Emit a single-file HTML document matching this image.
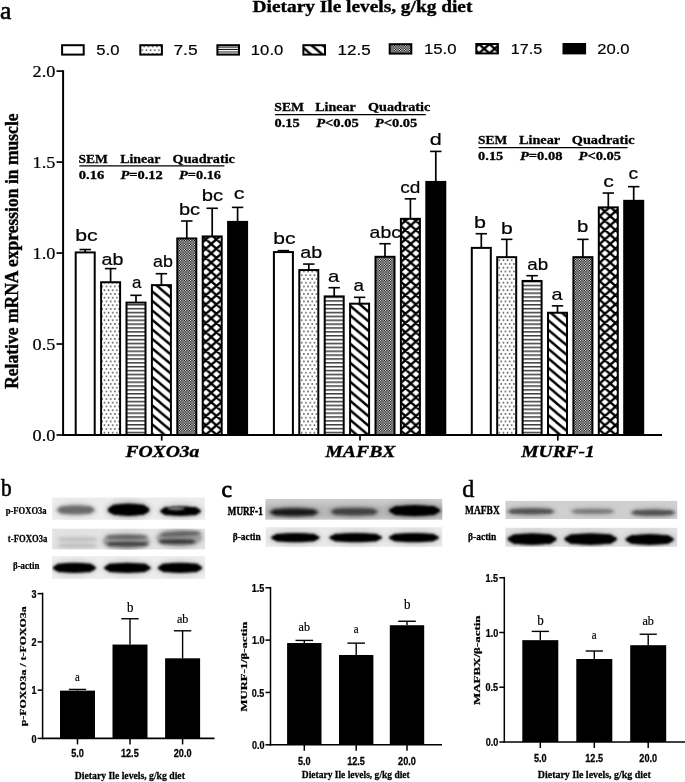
<!DOCTYPE html>
<html lang="en"><head><meta charset="utf-8"><title>Figure</title>
<style>
html,body{margin:0;padding:0;background:#fff;}
body{width:685px;height:782px;overflow:hidden;}
svg{display:block;}
.se{font-family:"Liberation Serif", "DejaVu Serif", serif;}
.sa{font-family:"Liberation Sans", "DejaVu Sans", sans-serif;}
</style></head><body>
<svg width="685" height="782" viewBox="0 0 685 782">
<defs>
<pattern id="p2" width="4.2" height="7.5" patternUnits="userSpaceOnUse" patternTransform="translate(0.6,0.5)">
<rect width="4.2" height="7.5" fill="#fff"/>
<rect x="0.2" y="0.3" width="1.35" height="1.3" fill="#111"/>
<rect x="2.3" y="4.05" width="1.35" height="1.3" fill="#111"/>
</pattern>
<pattern id="p3" width="6" height="3.87" patternUnits="userSpaceOnUse" patternTransform="translate(0,1.2)">
<rect width="6" height="3.87" fill="#fff"/>
<rect x="0" y="1.2" width="6" height="1.15" fill="#000"/>
</pattern>
<pattern id="p3l" width="6" height="2.45" patternUnits="userSpaceOnUse" patternTransform="translate(0,45.9)">
<rect width="6" height="2.45" fill="#fff"/>
<rect x="0" y="0.7" width="6" height="0.95" fill="#000"/>
</pattern>
<pattern id="p4" width="11.3" height="9.5" patternUnits="userSpaceOnUse" patternTransform="translate(2.5,4)">
<rect width="11.3" height="9.5" fill="#fff"/>
<path d="M-11.3,-9.5 L22.6,19 M-11.3,-19 L22.6,9.5 M-11.3,0 L22.6,28.5" stroke="#000" stroke-width="2.4" fill="none"/>
</pattern>
<pattern id="p5" width="2.5" height="2.5" patternUnits="userSpaceOnUse">
<rect width="2.5" height="2.5" fill="#000"/>
<rect x="0.05" y="0.05" width="1.2" height="1.2" fill="#fff"/>
<rect x="1.3" y="1.3" width="1.2" height="1.2" fill="#fff"/>
</pattern>
<pattern id="p6" width="10.5" height="9.3" patternUnits="userSpaceOnUse" patternTransform="translate(1.2,2.2)">
<rect width="10.5" height="9.3" fill="#fff"/>
<path d="M-10.5,-9.3 L21,18.6 M0,-9.3 L21,9.3 M-10.5,0 L10.5,18.6 M21,-9.3 L-10.5,18.6 M10.5,-9.3 L-10.5,9.3 M21,0 L0,18.6" stroke="#000" stroke-width="2.3" fill="none"/>
</pattern>
<filter id="b1" x="-20%" y="-60%" width="140%" height="220%"><feGaussianBlur stdDeviation="1.0"/></filter>
<filter id="b2" x="-20%" y="-60%" width="140%" height="220%"><feGaussianBlur stdDeviation="1.5"/></filter>
<filter id="b3" x="-5%" y="-20%" width="110%" height="140%"><feGaussianBlur stdDeviation="0.6"/></filter>
<filter id="b4" x="-30%" y="-80%" width="160%" height="260%"><feGaussianBlur stdDeviation="2.6"/></filter>
</defs>
<rect width="685" height="782" fill="#fff"/>

<text class="se" transform="translate(-0.09,18.80) scale(0.9834,1.0000)" text-anchor="start" style="font-size:26px;stroke:#000;stroke-width:0.6px;">a</text>
<text class="se" transform="translate(252.61,11.90) scale(1.1386,1.0000)" text-anchor="start" style="font-size:17px;font-weight:bold;stroke:#000;stroke-width:0.35px;">Dietary Ile levels, g/kg diet</text>
<rect x="62.10" y="45.20" width="21.60" height="9.40" fill="#fff" stroke="#000" stroke-width="2" />
<text class="sa" transform="translate(96.33,55.30) scale(1.0745,1.0000)" text-anchor="start" style="font-size:15.5px;stroke:#000;stroke-width:0.2px;">5.0</text>
<rect x="140.30" y="45.20" width="21.60" height="9.40" fill="url(#p2)" stroke="#000" stroke-width="2" />
<text class="sa" transform="translate(173.43,55.30) scale(1.1216,1.0000)" text-anchor="start" style="font-size:15.5px;stroke:#000;stroke-width:0.2px;">7.5</text>
<rect x="217.40" y="45.20" width="21.60" height="9.40" fill="url(#p3l)" stroke="#000" stroke-width="2" />
<text class="sa" transform="translate(250.85,55.30) scale(1.0759,1.0000)" text-anchor="start" style="font-size:15.5px;stroke:#000;stroke-width:0.2px;">10.0</text>
<rect x="303.40" y="45.20" width="21.60" height="9.40" fill="url(#p4)" stroke="#000" stroke-width="2" />
<text class="sa" transform="translate(337.53,55.30) scale(1.0964,1.0000)" text-anchor="start" style="font-size:15.5px;stroke:#000;stroke-width:0.2px;">12.5</text>
<rect x="389.70" y="44.20" width="21.60" height="9.40" fill="url(#p5)" stroke="#000" stroke-width="2" />
<text class="sa" transform="translate(423.95,54.00) scale(1.0794,1.0000)" text-anchor="start" style="font-size:15.5px;stroke:#000;stroke-width:0.2px;">15.0</text>
<rect x="476.30" y="44.00" width="21.60" height="9.40" fill="url(#p6)" stroke="#000" stroke-width="2" />
<text class="sa" transform="translate(510.79,53.70) scale(1.0400,1.0000)" text-anchor="start" style="font-size:15.5px;stroke:#000;stroke-width:0.2px;">17.5</text>
<rect x="563.50" y="44.00" width="21.60" height="9.40" fill="#000" stroke="#000" stroke-width="2" />
<text class="sa" transform="translate(597.17,53.70) scale(1.0753,1.0000)" text-anchor="start" style="font-size:15.5px;stroke:#000;stroke-width:0.2px;">20.0</text>
<line x1="63.10" y1="70.30" x2="63.10" y2="436.00" stroke="#000" stroke-width="2" stroke-linecap="butt"/>
<line x1="62.10" y1="435.00" x2="662.00" y2="435.00" stroke="#000" stroke-width="2" stroke-linecap="butt"/>
<line x1="56.50" y1="435.00" x2="63.10" y2="435.00" stroke="#000" stroke-width="1.7" stroke-linecap="butt"/>
<text class="se" transform="translate(32.51,440.50) scale(1.1000,1.0000)" text-anchor="start" style="font-size:16.6px;stroke:#000;stroke-width:0.2px;">0.0</text>
<line x1="56.50" y1="344.02" x2="63.10" y2="344.02" stroke="#000" stroke-width="1.7" stroke-linecap="butt"/>
<text class="se" transform="translate(32.51,349.52) scale(1.1000,1.0000)" text-anchor="start" style="font-size:16.6px;stroke:#000;stroke-width:0.2px;">0.5</text>
<line x1="56.50" y1="253.05" x2="63.10" y2="253.05" stroke="#000" stroke-width="1.7" stroke-linecap="butt"/>
<text class="se" transform="translate(32.51,258.55) scale(1.1000,1.0000)" text-anchor="start" style="font-size:16.6px;stroke:#000;stroke-width:0.2px;">1.0</text>
<line x1="56.50" y1="162.08" x2="63.10" y2="162.08" stroke="#000" stroke-width="1.7" stroke-linecap="butt"/>
<text class="se" transform="translate(32.51,167.58) scale(1.1000,1.0000)" text-anchor="start" style="font-size:16.6px;stroke:#000;stroke-width:0.2px;">1.5</text>
<line x1="56.50" y1="71.10" x2="63.10" y2="71.10" stroke="#000" stroke-width="1.7" stroke-linecap="butt"/>
<text class="se" transform="translate(32.51,76.60) scale(1.1000,1.0000)" text-anchor="start" style="font-size:16.6px;stroke:#000;stroke-width:0.2px;">2.0</text>
<text class="se" transform="translate(17.90,388.86) rotate(-90) scale(1.0568,1.1300)" text-anchor="start" style="font-size:16.6px;font-weight:bold;stroke:#000;stroke-width:0.35px;">Relative mRNA expression in muscle</text>
<line x1="161.70" y1="435.00" x2="161.70" y2="440.60" stroke="#000" stroke-width="1.7" stroke-linecap="butt"/>
<text class="se" transform="translate(125.40,456.70) scale(1.1330,1.0000)" text-anchor="start" style="font-size:17.3px;font-weight:bold;font-style:italic;stroke:#000;stroke-width:0.35px;">FOXO3a</text>
<line x1="85.20" y1="252.44" x2="85.20" y2="249.53" stroke="#000" stroke-width="1.7" stroke-linecap="butt"/>
<line x1="79.50" y1="249.53" x2="90.90" y2="249.53" stroke="#000" stroke-width="1.6" stroke-linecap="butt"/>
<rect x="75.70" y="252.44" width="19.00" height="182.56" fill="#fff" stroke="#000" stroke-width="2" />
<text class="sa" transform="translate(75.22,241.30) scale(1.2645,1.0000)" text-anchor="start" style="font-size:16.8px;stroke:#000;stroke-width:0.2px;">bc</text>
<line x1="110.60" y1="282.24" x2="110.60" y2="268.61" stroke="#000" stroke-width="1.7" stroke-linecap="butt"/>
<line x1="104.90" y1="268.61" x2="116.30" y2="268.61" stroke="#000" stroke-width="1.6" stroke-linecap="butt"/>
<rect x="101.10" y="282.24" width="19.00" height="152.76" fill="url(#p2)" stroke="#000" stroke-width="2" />
<text class="sa" transform="translate(101.61,264.90) scale(1.1731,1.0000)" text-anchor="start" style="font-size:16.8px;stroke:#000;stroke-width:0.2px;">ab</text>
<line x1="136.00" y1="302.59" x2="136.00" y2="295.32" stroke="#000" stroke-width="1.7" stroke-linecap="butt"/>
<line x1="130.30" y1="295.32" x2="141.70" y2="295.32" stroke="#000" stroke-width="1.6" stroke-linecap="butt"/>
<rect x="126.50" y="302.59" width="19.00" height="132.41" fill="url(#p3)" stroke="#000" stroke-width="2" />
<text class="sa" transform="translate(132.02,288.20) scale(1.0055,1.0000)" text-anchor="start" style="font-size:16.8px;stroke:#000;stroke-width:0.2px;">a</text>
<line x1="161.40" y1="285.14" x2="161.40" y2="273.70" stroke="#000" stroke-width="1.7" stroke-linecap="butt"/>
<line x1="155.70" y1="273.70" x2="167.10" y2="273.70" stroke="#000" stroke-width="1.6" stroke-linecap="butt"/>
<rect x="151.90" y="285.14" width="19.00" height="149.86" fill="url(#p4)" stroke="#000" stroke-width="2" />
<text class="sa" transform="translate(152.99,267.20) scale(1.0633,1.0000)" text-anchor="start" style="font-size:16.8px;stroke:#000;stroke-width:0.2px;">ab</text>
<line x1="186.80" y1="238.45" x2="186.80" y2="221.00" stroke="#000" stroke-width="1.7" stroke-linecap="butt"/>
<line x1="181.10" y1="221.00" x2="192.50" y2="221.00" stroke="#000" stroke-width="1.6" stroke-linecap="butt"/>
<rect x="177.30" y="238.45" width="19.00" height="196.55" fill="url(#p5)" stroke="#000" stroke-width="2" />
<text class="sa" transform="translate(179.00,215.30) scale(1.1905,1.0000)" text-anchor="start" style="font-size:16.8px;stroke:#000;stroke-width:0.2px;">bc</text>
<line x1="212.20" y1="236.45" x2="212.20" y2="208.28" stroke="#000" stroke-width="1.7" stroke-linecap="butt"/>
<line x1="206.50" y1="208.28" x2="217.90" y2="208.28" stroke="#000" stroke-width="1.6" stroke-linecap="butt"/>
<rect x="202.70" y="236.45" width="19.00" height="198.55" fill="url(#p6)" stroke="#000" stroke-width="2" />
<text class="sa" transform="translate(201.79,200.70) scale(1.2028,1.0000)" text-anchor="start" style="font-size:16.8px;stroke:#000;stroke-width:0.2px;">bc</text>
<line x1="237.60" y1="221.91" x2="237.60" y2="207.38" stroke="#000" stroke-width="1.7" stroke-linecap="butt"/>
<line x1="231.90" y1="207.38" x2="243.30" y2="207.38" stroke="#000" stroke-width="1.6" stroke-linecap="butt"/>
<rect x="228.10" y="221.91" width="19.00" height="213.09" fill="#000" stroke="#000" stroke-width="2" />
<text class="sa" transform="translate(233.74,199.20) scale(1.2726,1.0000)" text-anchor="start" style="font-size:16.8px;stroke:#000;stroke-width:0.2px;">c</text>
<line x1="360.00" y1="435.00" x2="360.00" y2="440.60" stroke="#000" stroke-width="1.7" stroke-linecap="butt"/>
<text class="se" transform="translate(325.20,456.70) scale(1.1432,1.0000)" text-anchor="start" style="font-size:17.3px;font-weight:bold;font-style:italic;stroke:#000;stroke-width:0.35px;">MAFBX</text>
<line x1="283.40" y1="252.07" x2="283.40" y2="250.62" stroke="#000" stroke-width="1.7" stroke-linecap="butt"/>
<line x1="277.70" y1="250.62" x2="289.10" y2="250.62" stroke="#000" stroke-width="1.6" stroke-linecap="butt"/>
<rect x="273.90" y="252.07" width="19.00" height="182.93" fill="#fff" stroke="#000" stroke-width="2" />
<text class="sa" transform="translate(273.33,244.30) scale(1.2522,1.0000)" text-anchor="start" style="font-size:16.8px;stroke:#000;stroke-width:0.2px;">bc</text>
<line x1="308.80" y1="270.06" x2="308.80" y2="264.07" stroke="#000" stroke-width="1.7" stroke-linecap="butt"/>
<line x1="303.10" y1="264.07" x2="314.50" y2="264.07" stroke="#000" stroke-width="1.6" stroke-linecap="butt"/>
<rect x="299.30" y="270.06" width="19.00" height="164.94" fill="url(#p2)" stroke="#000" stroke-width="2" />
<text class="sa" transform="translate(300.21,257.60) scale(1.1731,1.0000)" text-anchor="start" style="font-size:16.8px;stroke:#000;stroke-width:0.2px;">ab</text>
<line x1="334.20" y1="296.41" x2="334.20" y2="287.69" stroke="#000" stroke-width="1.7" stroke-linecap="butt"/>
<line x1="328.50" y1="287.69" x2="339.90" y2="287.69" stroke="#000" stroke-width="1.6" stroke-linecap="butt"/>
<rect x="324.70" y="296.41" width="19.00" height="138.59" fill="url(#p3)" stroke="#000" stroke-width="2" />
<text class="sa" transform="translate(327.98,282.00) scale(1.2136,1.0000)" text-anchor="start" style="font-size:16.8px;stroke:#000;stroke-width:0.2px;">a</text>
<line x1="359.60" y1="303.68" x2="359.60" y2="297.32" stroke="#000" stroke-width="1.7" stroke-linecap="butt"/>
<line x1="353.90" y1="297.32" x2="365.30" y2="297.32" stroke="#000" stroke-width="1.6" stroke-linecap="butt"/>
<rect x="350.10" y="303.68" width="19.00" height="131.32" fill="url(#p4)" stroke="#000" stroke-width="2" />
<text class="sa" transform="translate(353.55,291.40) scale(1.1211,1.0000)" text-anchor="start" style="font-size:16.8px;stroke:#000;stroke-width:0.2px;">a</text>
<line x1="385.00" y1="256.80" x2="385.00" y2="243.72" stroke="#000" stroke-width="1.7" stroke-linecap="butt"/>
<line x1="379.30" y1="243.72" x2="390.70" y2="243.72" stroke="#000" stroke-width="1.6" stroke-linecap="butt"/>
<rect x="375.50" y="256.80" width="19.00" height="178.20" fill="url(#p5)" stroke="#000" stroke-width="2" />
<text class="sa" transform="translate(369.62,237.60) scale(1.1558,1.0000)" text-anchor="start" style="font-size:16.8px;stroke:#000;stroke-width:0.2px;">abc</text>
<line x1="410.40" y1="218.82" x2="410.40" y2="198.84" stroke="#000" stroke-width="1.7" stroke-linecap="butt"/>
<line x1="404.70" y1="198.84" x2="416.10" y2="198.84" stroke="#000" stroke-width="1.6" stroke-linecap="butt"/>
<rect x="400.90" y="218.82" width="19.00" height="216.18" fill="url(#p6)" stroke="#000" stroke-width="2" />
<text class="sa" transform="translate(400.14,193.20) scale(1.1341,1.0000)" text-anchor="start" style="font-size:16.8px;stroke:#000;stroke-width:0.2px;">cd</text>
<line x1="435.80" y1="181.94" x2="435.80" y2="151.41" stroke="#000" stroke-width="1.7" stroke-linecap="butt"/>
<line x1="430.10" y1="151.41" x2="441.50" y2="151.41" stroke="#000" stroke-width="1.6" stroke-linecap="butt"/>
<rect x="426.30" y="181.94" width="19.00" height="253.06" fill="#000" stroke="#000" stroke-width="2" />
<text class="sa" transform="translate(429.74,145.30) scale(1.2831,1.0000)" text-anchor="start" style="font-size:16.8px;stroke:#000;stroke-width:0.2px;">d</text>
<line x1="557.80" y1="435.00" x2="557.80" y2="440.60" stroke="#000" stroke-width="1.7" stroke-linecap="butt"/>
<text class="se" transform="translate(521.29,456.70) scale(1.1248,1.0000)" text-anchor="start" style="font-size:17.3px;font-weight:bold;font-style:italic;stroke:#000;stroke-width:0.35px;">MURF-1</text>
<line x1="481.30" y1="247.89" x2="481.30" y2="233.72" stroke="#000" stroke-width="1.7" stroke-linecap="butt"/>
<line x1="475.60" y1="233.72" x2="487.00" y2="233.72" stroke="#000" stroke-width="1.6" stroke-linecap="butt"/>
<rect x="471.80" y="247.89" width="19.00" height="187.11" fill="#fff" stroke="#000" stroke-width="2" />
<text class="sa" transform="translate(473.90,228.20) scale(1.2831,1.0000)" text-anchor="start" style="font-size:16.8px;stroke:#000;stroke-width:0.2px;">b</text>
<line x1="506.70" y1="257.16" x2="506.70" y2="239.35" stroke="#000" stroke-width="1.7" stroke-linecap="butt"/>
<line x1="501.00" y1="239.35" x2="512.40" y2="239.35" stroke="#000" stroke-width="1.6" stroke-linecap="butt"/>
<rect x="497.20" y="257.16" width="19.00" height="177.84" fill="url(#p2)" stroke="#000" stroke-width="2" />
<text class="sa" transform="translate(501.03,234.00) scale(1.2566,1.0000)" text-anchor="start" style="font-size:16.8px;stroke:#000;stroke-width:0.2px;">b</text>
<line x1="532.10" y1="280.96" x2="532.10" y2="275.69" stroke="#000" stroke-width="1.7" stroke-linecap="butt"/>
<line x1="526.40" y1="275.69" x2="537.80" y2="275.69" stroke="#000" stroke-width="1.6" stroke-linecap="butt"/>
<rect x="522.60" y="280.96" width="19.00" height="154.04" fill="url(#p3)" stroke="#000" stroke-width="2" />
<text class="sa" transform="translate(527.25,269.80) scale(1.1211,1.0000)" text-anchor="start" style="font-size:16.8px;stroke:#000;stroke-width:0.2px;">ab</text>
<line x1="557.50" y1="312.76" x2="557.50" y2="305.86" stroke="#000" stroke-width="1.7" stroke-linecap="butt"/>
<line x1="551.80" y1="305.86" x2="563.20" y2="305.86" stroke="#000" stroke-width="1.6" stroke-linecap="butt"/>
<rect x="548.00" y="312.76" width="19.00" height="122.24" fill="url(#p4)" stroke="#000" stroke-width="2" />
<text class="sa" transform="translate(551.61,299.80) scale(1.1789,1.0000)" text-anchor="start" style="font-size:16.8px;stroke:#000;stroke-width:0.2px;">a</text>
<line x1="582.90" y1="257.16" x2="582.90" y2="239.35" stroke="#000" stroke-width="1.7" stroke-linecap="butt"/>
<line x1="577.20" y1="239.35" x2="588.60" y2="239.35" stroke="#000" stroke-width="1.6" stroke-linecap="butt"/>
<rect x="573.40" y="257.16" width="19.00" height="177.84" fill="url(#p5)" stroke="#000" stroke-width="2" />
<text class="sa" transform="translate(577.07,231.80) scale(1.2169,1.0000)" text-anchor="start" style="font-size:16.8px;stroke:#000;stroke-width:0.2px;">b</text>
<line x1="608.30" y1="207.38" x2="608.30" y2="193.02" stroke="#000" stroke-width="1.7" stroke-linecap="butt"/>
<line x1="602.60" y1="193.02" x2="614.00" y2="193.02" stroke="#000" stroke-width="1.6" stroke-linecap="butt"/>
<rect x="598.80" y="207.38" width="19.00" height="227.62" fill="url(#p6)" stroke="#000" stroke-width="2" />
<text class="sa" transform="translate(603.35,186.60) scale(1.2589,1.0000)" text-anchor="start" style="font-size:16.8px;stroke:#000;stroke-width:0.2px;">c</text>
<line x1="633.70" y1="200.83" x2="633.70" y2="186.66" stroke="#000" stroke-width="1.7" stroke-linecap="butt"/>
<line x1="628.00" y1="186.66" x2="639.40" y2="186.66" stroke="#000" stroke-width="1.6" stroke-linecap="butt"/>
<rect x="624.20" y="200.83" width="19.00" height="234.17" fill="#000" stroke="#000" stroke-width="2" />
<text class="sa" transform="translate(628.44,178.60) scale(1.1357,1.0000)" text-anchor="start" style="font-size:16.8px;stroke:#000;stroke-width:0.2px;">c</text>
<text class="se" transform="translate(78.55,163.40) scale(1.0441,1.0000)" text-anchor="start" style="font-size:13px;font-weight:bold;stroke:#000;stroke-width:0.3px;">SEM</text>
<text class="se" transform="translate(120.19,163.40) scale(1.0696,1.0000)" text-anchor="start" style="font-size:13px;font-weight:bold;stroke:#000;stroke-width:0.3px;">Linear</text>
<text class="se" transform="translate(172.59,163.40) scale(1.0928,1.0000)" text-anchor="start" style="font-size:13px;font-weight:bold;stroke:#000;stroke-width:0.3px;">Quadratic</text>
<line x1="79.30" y1="165.90" x2="224.40" y2="165.90" stroke="#000" stroke-width="1.2" stroke-linecap="butt"/>
<text class="se" transform="translate(78.72,178.50) scale(1.1218,1.0000)" text-anchor="start" style="font-size:13px;font-weight:bold;stroke:#000;stroke-width:0.3px;">0.16</text>
<text class="se" transform="translate(120.40,178.50) scale(1.1126,1.0000)" text-anchor="start" style="font-size:13px;font-weight:bold;stroke:#000;stroke-width:0.3px;"><tspan font-style="italic">P</tspan>=0.12</text>
<text class="se" transform="translate(179.10,178.50) scale(1.1008,1.0000)" text-anchor="start" style="font-size:13px;font-weight:bold;stroke:#000;stroke-width:0.3px;"><tspan font-style="italic">P</tspan>=0.16</text>
<text class="se" transform="translate(274.25,110.80) scale(1.0552,1.0000)" text-anchor="start" style="font-size:13px;font-weight:bold;stroke:#000;stroke-width:0.3px;">SEM</text>
<text class="se" transform="translate(315.19,110.80) scale(1.0831,1.0000)" text-anchor="start" style="font-size:13px;font-weight:bold;stroke:#000;stroke-width:0.3px;">Linear</text>
<text class="se" transform="translate(368.09,110.80) scale(1.0910,1.0000)" text-anchor="start" style="font-size:13px;font-weight:bold;stroke:#000;stroke-width:0.3px;">Quadratic</text>
<line x1="275.00" y1="114.70" x2="425.80" y2="114.70" stroke="#000" stroke-width="1.2" stroke-linecap="butt"/>
<text class="se" transform="translate(274.42,126.50) scale(1.1114,1.0000)" text-anchor="start" style="font-size:13px;font-weight:bold;stroke:#000;stroke-width:0.3px;">0.15</text>
<text class="se" transform="translate(316.20,126.50) scale(1.1186,1.0000)" text-anchor="start" style="font-size:13px;font-weight:bold;stroke:#000;stroke-width:0.3px;"><tspan font-style="italic">P</tspan>&lt;0.05</text>
<text class="se" transform="translate(374.80,126.50) scale(1.1186,1.0000)" text-anchor="start" style="font-size:13px;font-weight:bold;stroke:#000;stroke-width:0.3px;"><tspan font-style="italic">P</tspan>&lt;0.05</text>
<text class="se" transform="translate(477.96,143.80) scale(1.0367,1.0000)" text-anchor="start" style="font-size:13px;font-weight:bold;stroke:#000;stroke-width:0.3px;">SEM</text>
<text class="se" transform="translate(518.89,143.80) scale(1.0993,1.0000)" text-anchor="start" style="font-size:13px;font-weight:bold;stroke:#000;stroke-width:0.3px;">Linear</text>
<text class="se" transform="translate(571.79,143.80) scale(1.0999,1.0000)" text-anchor="start" style="font-size:13px;font-weight:bold;stroke:#000;stroke-width:0.3px;">Quadratic</text>
<line x1="478.70" y1="147.70" x2="627.60" y2="147.70" stroke="#000" stroke-width="1.2" stroke-linecap="butt"/>
<text class="se" transform="translate(478.12,159.50) scale(1.1068,1.0000)" text-anchor="start" style="font-size:13px;font-weight:bold;stroke:#000;stroke-width:0.3px;">0.15</text>
<text class="se" transform="translate(519.90,159.50) scale(1.1186,1.0000)" text-anchor="start" style="font-size:13px;font-weight:bold;stroke:#000;stroke-width:0.3px;"><tspan font-style="italic">P</tspan>=0.08</text>
<text class="se" transform="translate(578.50,159.50) scale(1.1186,1.0000)" text-anchor="start" style="font-size:13px;font-weight:bold;stroke:#000;stroke-width:0.3px;"><tspan font-style="italic">P</tspan>&lt;0.05</text>
<text class="se" transform="translate(1.10,496.40) scale(0.8194,1.0000)" text-anchor="start" style="font-size:26px;stroke:#000;stroke-width:0.6px;">b</text>
<text class="se" transform="translate(5.71,514.20) scale(0.8412,1.0000)" text-anchor="start" style="font-size:10.2px;font-weight:bold;stroke:#000;stroke-width:0.25px;">p-FOXO3a</text>
<text class="se" transform="translate(7.87,542.40) scale(0.8493,1.0000)" text-anchor="start" style="font-size:10.2px;font-weight:bold;stroke:#000;stroke-width:0.25px;">t-FOXO3a</text>
<text class="se" transform="translate(13.01,569.20) scale(0.8688,1.0000)" text-anchor="start" style="font-size:10.2px;font-weight:bold;stroke:#000;stroke-width:0.25px;">β-actin</text>
<rect x="52.20" y="497.50" width="152.80" height="22.20" fill="#ececec" filter="url(#b3)"/>
<clipPath id="cp1"><rect x="51.70" y="497.00" width="153.80" height="23.20"/></clipPath>
<g clip-path="url(#cp1)">
<ellipse cx="75.80" cy="509.90" rx="20.90" ry="7.60" fill="#000" opacity="0.1" filter="url(#b4)"/>
<g filter="url(#b2)" opacity="0.75"><ellipse cx="75.80" cy="509.90" rx="18.90" ry="4.60" fill="#4a4a4a"/><rect x="59.17" y="506.04" width="33.26" height="7.73" rx="3.68" fill="#4a4a4a"/></g>
<ellipse cx="128.60" cy="509.80" rx="23.00" ry="9.20" fill="#000" opacity="0.2" filter="url(#b4)"/>
<g filter="url(#b1)" opacity="1"><ellipse cx="128.60" cy="509.80" rx="21.00" ry="6.20" fill="#000"/><rect x="110.12" y="504.59" width="36.96" height="10.42" rx="4.96" fill="#000"/></g>
<ellipse cx="180.55" cy="511.10" rx="22.45" ry="7.90" fill="#000" opacity="0.15" filter="url(#b4)"/>
<g filter="url(#b1)" opacity="1"><ellipse cx="180.55" cy="511.10" rx="20.45" ry="4.90" fill="#000"/><rect x="162.55" y="506.98" width="35.99" height="8.23" rx="3.92" fill="#000"/></g>
<ellipse cx="176" cy="508.6" rx="9" ry="1.6" fill="#ececec" opacity="0.55" filter="url(#b1)"/>
</g>
<rect x="52.20" y="528.70" width="152.80" height="20.70" fill="#e3e3e3" filter="url(#b3)"/>
<clipPath id="cp2"><rect x="51.70" y="528.20" width="153.80" height="21.70"/></clipPath>
<g clip-path="url(#cp2)">
<ellipse cx="77.50" cy="539.25" rx="22.50" ry="4.75" fill="#000" opacity="0.03" filter="url(#b4)"/>
<g filter="url(#b2)" opacity="0.35"><ellipse cx="77.50" cy="539.25" rx="20.50" ry="1.75" fill="#888"/><rect x="59.46" y="537.78" width="36.08" height="2.94" rx="1.40" fill="#888"/></g>
<ellipse cx="77.50" cy="545.75" rx="22.50" ry="4.75" fill="#000" opacity="0.03" filter="url(#b4)"/>
<g filter="url(#b2)" opacity="0.35"><ellipse cx="77.50" cy="545.75" rx="20.50" ry="1.75" fill="#888"/><rect x="59.46" y="544.28" width="36.08" height="2.94" rx="1.40" fill="#888"/></g>
<ellipse cx="126.25" cy="541.40" rx="25.35" ry="10.40" fill="#000" opacity="0.1" filter="url(#b4)"/>
<g filter="url(#b2)" opacity="0.55"><ellipse cx="126.25" cy="541.40" rx="23.35" ry="7.40" fill="#777"/><rect x="105.70" y="535.18" width="41.10" height="12.43" rx="5.92" fill="#777"/></g>
<g filter="url(#b2)" opacity="0.6"><ellipse cx="126.50" cy="537.00" rx="22.00" ry="1.80" fill="#333"/><rect x="107.14" y="535.49" width="38.72" height="3.02" rx="1.44" fill="#333"/></g>
<g filter="url(#b2)" opacity="0.75"><ellipse cx="127.50" cy="544.00" rx="21.50" ry="2.50" fill="#222"/><rect x="108.58" y="541.90" width="37.84" height="4.20" rx="2.00" fill="#222"/></g>
<ellipse cx="179.40" cy="538.00" rx="24.80" ry="11.00" fill="#000" opacity="0.1" filter="url(#b4)"/>
<g filter="url(#b2)" opacity="0.55"><ellipse cx="179.40" cy="538.00" rx="22.80" ry="8.00" fill="#777"/><rect x="159.34" y="531.28" width="40.13" height="13.44" rx="6.40" fill="#777"/></g>
<g filter="url(#b2)" opacity="0.6" transform="rotate(-3 181.0 534.0)"><ellipse cx="181.00" cy="534.00" rx="21.00" ry="2.20" fill="#333"/><rect x="162.52" y="532.15" width="36.96" height="3.70" rx="1.76" fill="#333"/></g>
<g filter="url(#b2)" opacity="0.8"><ellipse cx="177.00" cy="541.60" rx="19.00" ry="2.40" fill="#1a1a1a"/><rect x="160.28" y="539.58" width="33.44" height="4.03" rx="1.92" fill="#1a1a1a"/></g>
</g>
<rect x="52.20" y="556.20" width="152.80" height="22.70" fill="#ededed" filter="url(#b3)"/>
<clipPath id="cp3"><rect x="51.70" y="555.70" width="153.80" height="23.70"/></clipPath>
<g clip-path="url(#cp3)">
<ellipse cx="74.40" cy="567.90" rx="23.50" ry="8.10" fill="#000" opacity="0.12" filter="url(#b4)"/>
<g filter="url(#b1)" opacity="1.0"><ellipse cx="74.40" cy="567.90" rx="21.50" ry="5.10" fill="#000"/><rect x="55.48" y="563.62" width="37.84" height="8.57" rx="4.08" fill="#000"/></g>
<ellipse cx="127.40" cy="567.90" rx="25.40" ry="8.10" fill="#000" opacity="0.12" filter="url(#b4)"/>
<g filter="url(#b1)" opacity="1.0"><ellipse cx="127.40" cy="567.90" rx="23.40" ry="5.10" fill="#000"/><rect x="106.81" y="563.62" width="41.18" height="8.57" rx="4.08" fill="#000"/></g>
<ellipse cx="180.00" cy="567.90" rx="24.20" ry="8.10" fill="#000" opacity="0.12" filter="url(#b4)"/>
<g filter="url(#b1)" opacity="1.0"><ellipse cx="180.00" cy="567.90" rx="22.20" ry="5.10" fill="#000"/><rect x="160.46" y="563.62" width="39.07" height="8.57" rx="4.08" fill="#000"/></g>
</g>
<line x1="42.60" y1="592.70" x2="42.60" y2="739.20" stroke="#000" stroke-width="1.5" stroke-linecap="butt"/>
<line x1="41.90" y1="738.40" x2="214.50" y2="738.40" stroke="#000" stroke-width="1.6" stroke-linecap="butt"/>
<line x1="37.60" y1="738.40" x2="42.60" y2="738.40" stroke="#000" stroke-width="1.5" stroke-linecap="butt"/>
<text class="sa" transform="translate(31.54,742.60) scale(0.8300,1.0000)" text-anchor="start" style="font-size:10.9px;font-weight:bold;stroke:#000;stroke-width:0.25px;">0</text>
<line x1="37.60" y1="690.15" x2="42.60" y2="690.15" stroke="#000" stroke-width="1.5" stroke-linecap="butt"/>
<text class="sa" transform="translate(31.41,694.35) scale(0.8300,1.0000)" text-anchor="start" style="font-size:10.9px;font-weight:bold;stroke:#000;stroke-width:0.25px;">1</text>
<line x1="37.60" y1="641.90" x2="42.60" y2="641.90" stroke="#000" stroke-width="1.5" stroke-linecap="butt"/>
<text class="sa" transform="translate(31.54,646.10) scale(0.8300,1.0000)" text-anchor="start" style="font-size:10.9px;font-weight:bold;stroke:#000;stroke-width:0.25px;">2</text>
<line x1="37.60" y1="593.65" x2="42.60" y2="593.65" stroke="#000" stroke-width="1.5" stroke-linecap="butt"/>
<text class="sa" transform="translate(31.50,597.85) scale(0.8300,1.0000)" text-anchor="start" style="font-size:10.9px;font-weight:bold;stroke:#000;stroke-width:0.25px;">3</text>
<line x1="77.50" y1="738.40" x2="77.50" y2="744.40" stroke="#000" stroke-width="1.5" stroke-linecap="butt"/>
<text class="sa" transform="translate(71.18,756.50) scale(0.8400,1.0000)" text-anchor="start" style="font-size:10.9px;font-weight:bold;stroke:#000;stroke-width:0.25px;">5.0</text>
<line x1="130.00" y1="738.40" x2="130.00" y2="744.40" stroke="#000" stroke-width="1.5" stroke-linecap="butt"/>
<text class="sa" transform="translate(120.94,756.50) scale(0.8400,1.0000)" text-anchor="start" style="font-size:10.9px;font-weight:bold;stroke:#000;stroke-width:0.25px;">12.5</text>
<line x1="182.60" y1="738.40" x2="182.60" y2="744.40" stroke="#000" stroke-width="1.5" stroke-linecap="butt"/>
<text class="sa" transform="translate(173.72,756.50) scale(0.8400,1.0000)" text-anchor="start" style="font-size:10.9px;font-weight:bold;stroke:#000;stroke-width:0.25px;">20.0</text>
<line x1="77.50" y1="690.63" x2="77.50" y2="689.43" stroke="#000" stroke-width="1.4" stroke-linecap="butt"/>
<line x1="68.80" y1="689.43" x2="86.20" y2="689.43" stroke="#000" stroke-width="1.4" stroke-linecap="butt"/>
<rect x="60.00" y="690.63" width="35.00" height="47.77" fill="#000" />
<text class="se" transform="translate(74.99,680.70) scale(0.8000,1.0000)" text-anchor="start" style="font-size:13.5px;stroke:#000;stroke-width:0.2px;">a</text>
<line x1="130.00" y1="644.55" x2="130.00" y2="618.74" stroke="#000" stroke-width="1.4" stroke-linecap="butt"/>
<line x1="121.30" y1="618.74" x2="138.70" y2="618.74" stroke="#000" stroke-width="1.4" stroke-linecap="butt"/>
<rect x="112.50" y="644.55" width="35.00" height="93.85" fill="#000" />
<text class="se" transform="translate(127.00,611.70) scale(0.8800,1.0000)" text-anchor="start" style="font-size:14.8px;stroke:#000;stroke-width:0.2px;">b</text>
<line x1="182.60" y1="658.30" x2="182.60" y2="630.80" stroke="#000" stroke-width="1.4" stroke-linecap="butt"/>
<line x1="173.90" y1="630.80" x2="191.30" y2="630.80" stroke="#000" stroke-width="1.4" stroke-linecap="butt"/>
<rect x="165.10" y="658.30" width="35.00" height="80.10" fill="#000" />
<text class="se" transform="translate(176.88,622.90) scale(0.9500,1.0000)" text-anchor="start" style="font-size:12.8px;stroke:#000;stroke-width:0.2px;">ab</text>
<text class="se" transform="translate(26.30,726.22) rotate(-90) scale(1.2494,0.8800)" text-anchor="start" style="font-size:9.5px;font-weight:bold;stroke:#000;stroke-width:0.25px;">p-FOXO3a / t-FOXO3a</text>
<text class="se" transform="translate(74.85,778.80) scale(0.8584,1.0000)" text-anchor="start" style="font-size:11.3px;font-weight:bold;stroke:#000;stroke-width:0.25px;">Dietary Ile levels, g/kg diet</text>
<text class="se" transform="translate(221.55,496.70) scale(0.9889,1.0000)" text-anchor="start" style="font-size:24px;stroke:#000;stroke-width:0.8px;">c</text>
<text class="se" transform="translate(227.86,514.70) scale(0.6850,1.0000)" text-anchor="start" style="font-size:13.3px;font-weight:bold;stroke:#000;stroke-width:0.5px;">MURF-1</text>
<text class="se" transform="translate(232.68,539.50) scale(0.8288,1.0000)" text-anchor="start" style="font-size:11.4px;font-weight:bold;stroke:#000;stroke-width:0.3px;">β-actin</text>
<rect x="265.50" y="499.00" width="176.70" height="20.60" fill="#cbcbcb" filter="url(#b3)"/>
<clipPath id="cp4"><rect x="265.00" y="498.50" width="177.70" height="21.60"/></clipPath>
<g clip-path="url(#cp4)">
<rect x="262" y="505" width="184" height="13" fill="#000" opacity="0.10" filter="url(#b4)"/>
<ellipse cx="294.00" cy="512.25" rx="26.30" ry="6.95" fill="#000" opacity="0.12" filter="url(#b4)"/>
<g filter="url(#b2)" opacity="0.92"><ellipse cx="294.00" cy="512.25" rx="24.30" ry="3.95" fill="#0a0a0a"/><rect x="272.62" y="508.93" width="42.77" height="6.64" rx="3.16" fill="#0a0a0a"/></g>
<ellipse cx="354.30" cy="511.80" rx="25.60" ry="6.80" fill="#000" opacity="0.1" filter="url(#b4)"/>
<g filter="url(#b2)" opacity="0.72"><ellipse cx="354.30" cy="511.80" rx="23.60" ry="3.80" fill="#1a1a1a"/><rect x="333.53" y="508.61" width="41.54" height="6.38" rx="3.04" fill="#1a1a1a"/></g>
<ellipse cx="414.65" cy="510.60" rx="27.65" ry="8.60" fill="#000" opacity="0.18" filter="url(#b4)"/>
<g filter="url(#b1)" opacity="1"><ellipse cx="414.65" cy="510.60" rx="25.65" ry="5.60" fill="#000"/><rect x="392.08" y="505.90" width="45.14" height="9.41" rx="4.48" fill="#000"/></g>
</g>
<rect x="265.50" y="527.30" width="176.70" height="19.40" fill="#e9e9e9" filter="url(#b3)"/>
<clipPath id="cp5"><rect x="265.00" y="526.80" width="177.70" height="20.40"/></clipPath>
<g clip-path="url(#cp5)">
<ellipse cx="295.35" cy="537.65" rx="26.25" ry="7.65" fill="#000" opacity="0.12" filter="url(#b4)"/>
<g filter="url(#b1)" opacity="1.0"><ellipse cx="295.35" cy="537.65" rx="24.25" ry="4.65" fill="#000"/><rect x="274.01" y="533.74" width="42.68" height="7.81" rx="3.72" fill="#000"/></g>
<ellipse cx="355.65" cy="537.65" rx="28.35" ry="7.65" fill="#000" opacity="0.12" filter="url(#b4)"/>
<g filter="url(#b1)" opacity="1.0"><ellipse cx="355.65" cy="537.65" rx="26.35" ry="4.65" fill="#000"/><rect x="332.46" y="533.74" width="46.38" height="7.81" rx="3.72" fill="#000"/></g>
<ellipse cx="413.95" cy="537.65" rx="26.95" ry="7.65" fill="#000" opacity="0.12" filter="url(#b4)"/>
<g filter="url(#b1)" opacity="1.0"><ellipse cx="413.95" cy="537.65" rx="24.95" ry="4.65" fill="#000"/><rect x="391.99" y="533.74" width="43.91" height="7.81" rx="3.72" fill="#000"/></g>
</g>
<line x1="270.50" y1="586.90" x2="270.50" y2="745.60" stroke="#000" stroke-width="1.5" stroke-linecap="butt"/>
<line x1="269.80" y1="744.80" x2="442.00" y2="744.80" stroke="#000" stroke-width="1.6" stroke-linecap="butt"/>
<line x1="265.50" y1="744.80" x2="270.50" y2="744.80" stroke="#000" stroke-width="1.5" stroke-linecap="butt"/>
<text class="sa" transform="translate(251.89,749.00) scale(0.8300,1.0000)" text-anchor="start" style="font-size:10.9px;font-weight:bold;stroke:#000;stroke-width:0.25px;">0.0</text>
<line x1="265.50" y1="692.45" x2="270.50" y2="692.45" stroke="#000" stroke-width="1.5" stroke-linecap="butt"/>
<text class="sa" transform="translate(251.75,696.65) scale(0.8300,1.0000)" text-anchor="start" style="font-size:10.9px;font-weight:bold;stroke:#000;stroke-width:0.25px;">0.5</text>
<line x1="265.50" y1="640.10" x2="270.50" y2="640.10" stroke="#000" stroke-width="1.5" stroke-linecap="butt"/>
<text class="sa" transform="translate(251.89,644.30) scale(0.8300,1.0000)" text-anchor="start" style="font-size:10.9px;font-weight:bold;stroke:#000;stroke-width:0.25px;">1.0</text>
<line x1="265.50" y1="587.75" x2="270.50" y2="587.75" stroke="#000" stroke-width="1.5" stroke-linecap="butt"/>
<text class="sa" transform="translate(251.75,591.95) scale(0.8300,1.0000)" text-anchor="start" style="font-size:10.9px;font-weight:bold;stroke:#000;stroke-width:0.25px;">1.5</text>
<line x1="304.30" y1="744.80" x2="304.30" y2="750.80" stroke="#000" stroke-width="1.5" stroke-linecap="butt"/>
<text class="sa" transform="translate(297.98,764.60) scale(0.8400,1.0000)" text-anchor="start" style="font-size:10.9px;font-weight:bold;stroke:#000;stroke-width:0.25px;">5.0</text>
<line x1="356.20" y1="744.80" x2="356.20" y2="750.80" stroke="#000" stroke-width="1.5" stroke-linecap="butt"/>
<text class="sa" transform="translate(347.14,764.60) scale(0.8400,1.0000)" text-anchor="start" style="font-size:10.9px;font-weight:bold;stroke:#000;stroke-width:0.25px;">12.5</text>
<line x1="407.00" y1="744.80" x2="407.00" y2="750.80" stroke="#000" stroke-width="1.5" stroke-linecap="butt"/>
<text class="sa" transform="translate(398.12,764.60) scale(0.8400,1.0000)" text-anchor="start" style="font-size:10.9px;font-weight:bold;stroke:#000;stroke-width:0.25px;">20.0</text>
<line x1="304.30" y1="643.03" x2="304.30" y2="640.41" stroke="#000" stroke-width="1.4" stroke-linecap="butt"/>
<line x1="295.50" y1="640.41" x2="313.10" y2="640.41" stroke="#000" stroke-width="1.4" stroke-linecap="butt"/>
<rect x="287.10" y="643.03" width="34.40" height="101.77" fill="#000" />
<text class="se" transform="translate(298.58,630.60) scale(0.9500,1.0000)" text-anchor="start" style="font-size:12.8px;stroke:#000;stroke-width:0.2px;">ab</text>
<line x1="356.20" y1="654.97" x2="356.20" y2="643.14" stroke="#000" stroke-width="1.4" stroke-linecap="butt"/>
<line x1="347.40" y1="643.14" x2="365.00" y2="643.14" stroke="#000" stroke-width="1.4" stroke-linecap="butt"/>
<rect x="339.00" y="654.97" width="34.40" height="89.83" fill="#000" />
<text class="se" transform="translate(353.69,633.00) scale(0.8000,1.0000)" text-anchor="start" style="font-size:13.5px;stroke:#000;stroke-width:0.2px;">a</text>
<line x1="407.00" y1="625.23" x2="407.00" y2="621.25" stroke="#000" stroke-width="1.4" stroke-linecap="butt"/>
<line x1="398.20" y1="621.25" x2="415.80" y2="621.25" stroke="#000" stroke-width="1.4" stroke-linecap="butt"/>
<rect x="389.80" y="625.23" width="34.40" height="119.57" fill="#000" />
<text class="se" transform="translate(404.00,608.50) scale(0.8800,1.0000)" text-anchor="start" style="font-size:14.8px;stroke:#000;stroke-width:0.2px;">b</text>
<text class="se" transform="translate(246.60,711.39) rotate(-90) scale(1.3333,0.8800)" text-anchor="start" style="font-size:9.5px;font-weight:bold;stroke:#000;stroke-width:0.25px;">MURF-1/β-actin</text>
<text class="se" transform="translate(301.76,778.00) scale(0.8420,1.0000)" text-anchor="start" style="font-size:11.3px;font-weight:bold;stroke:#000;stroke-width:0.25px;">Dietary Ile levels, g/kg diet</text>
<text class="se" transform="translate(462.15,496.90) scale(0.9298,1.0000)" text-anchor="start" style="font-size:26px;stroke:#000;stroke-width:0.5px;">d</text>
<text class="se" transform="translate(465.06,513.70) scale(0.7383,1.0000)" text-anchor="start" style="font-size:12.8px;font-weight:bold;stroke:#000;stroke-width:0.4px;">MAFBX</text>
<text class="se" transform="translate(468.08,540.30) scale(0.8318,1.0000)" text-anchor="start" style="font-size:11.4px;font-weight:bold;stroke:#000;stroke-width:0.3px;">β-actin</text>
<rect x="505.50" y="500.90" width="171.70" height="18.10" fill="#cfcfcf" filter="url(#b3)"/>
<clipPath id="cp6"><rect x="505.00" y="500.40" width="172.70" height="19.10"/></clipPath>
<g clip-path="url(#cp6)">
<ellipse cx="531.05" cy="511.45" rx="25.55" ry="6.15" fill="#000" opacity="0.08" filter="url(#b4)"/>
<g filter="url(#b2)" opacity="0.7"><ellipse cx="531.05" cy="511.45" rx="23.55" ry="3.15" fill="#222"/><rect x="510.33" y="508.80" width="41.45" height="5.29" rx="2.52" fill="#222"/></g>
<ellipse cx="592.80" cy="511.40" rx="23.50" ry="5.60" fill="#000" opacity="0.06" filter="url(#b4)"/>
<g filter="url(#b2)" opacity="0.5"><ellipse cx="592.80" cy="511.40" rx="21.50" ry="2.60" fill="#333"/><rect x="573.88" y="509.22" width="37.84" height="4.37" rx="2.08" fill="#333"/></g>
<ellipse cx="653.10" cy="512.70" rx="24.20" ry="6.10" fill="#000" opacity="0.08" filter="url(#b4)"/>
<g filter="url(#b2)" opacity="0.7"><ellipse cx="653.10" cy="512.70" rx="22.20" ry="3.10" fill="#222"/><rect x="633.56" y="510.10" width="39.07" height="5.21" rx="2.48" fill="#222"/></g>
</g>
<rect x="505.50" y="527.80" width="171.70" height="18.90" fill="#e0e0e0" filter="url(#b3)"/>
<clipPath id="cp7"><rect x="505.00" y="527.30" width="172.70" height="19.90"/></clipPath>
<g clip-path="url(#cp7)">
<ellipse cx="532.05" cy="539.10" rx="26.55" ry="8.90" fill="#000" opacity="0.12" filter="url(#b4)"/>
<g filter="url(#b1)" opacity="1.0"><ellipse cx="532.05" cy="539.10" rx="24.55" ry="5.90" fill="#000"/><rect x="510.45" y="534.14" width="43.21" height="9.91" rx="4.72" fill="#000"/></g>
<ellipse cx="590.65" cy="539.10" rx="28.35" ry="8.90" fill="#000" opacity="0.12" filter="url(#b4)"/>
<g filter="url(#b1)" opacity="1.0"><ellipse cx="590.65" cy="539.10" rx="26.35" ry="5.90" fill="#000"/><rect x="567.46" y="534.14" width="46.38" height="9.91" rx="4.72" fill="#000"/></g>
<ellipse cx="649.65" cy="539.50" rx="26.25" ry="8.50" fill="#000" opacity="0.12" filter="url(#b4)"/>
<g filter="url(#b1)" opacity="1.0"><ellipse cx="649.65" cy="539.50" rx="24.25" ry="5.50" fill="#000"/><rect x="628.31" y="534.88" width="42.68" height="9.24" rx="4.40" fill="#000"/></g>
</g>
<line x1="504.30" y1="576.90" x2="504.30" y2="742.80" stroke="#000" stroke-width="1.5" stroke-linecap="butt"/>
<line x1="503.60" y1="742.00" x2="686.00" y2="742.00" stroke="#000" stroke-width="1.6" stroke-linecap="butt"/>
<line x1="499.30" y1="742.00" x2="504.30" y2="742.00" stroke="#000" stroke-width="1.5" stroke-linecap="butt"/>
<text class="sa" transform="translate(485.69,746.20) scale(0.8300,1.0000)" text-anchor="start" style="font-size:10.9px;font-weight:bold;stroke:#000;stroke-width:0.25px;">0.0</text>
<line x1="499.30" y1="687.25" x2="504.30" y2="687.25" stroke="#000" stroke-width="1.5" stroke-linecap="butt"/>
<text class="sa" transform="translate(485.55,691.45) scale(0.8300,1.0000)" text-anchor="start" style="font-size:10.9px;font-weight:bold;stroke:#000;stroke-width:0.25px;">0.5</text>
<line x1="499.30" y1="632.50" x2="504.30" y2="632.50" stroke="#000" stroke-width="1.5" stroke-linecap="butt"/>
<text class="sa" transform="translate(485.69,636.70) scale(0.8300,1.0000)" text-anchor="start" style="font-size:10.9px;font-weight:bold;stroke:#000;stroke-width:0.25px;">1.0</text>
<line x1="499.30" y1="577.75" x2="504.30" y2="577.75" stroke="#000" stroke-width="1.5" stroke-linecap="butt"/>
<text class="sa" transform="translate(485.55,581.95) scale(0.8300,1.0000)" text-anchor="start" style="font-size:10.9px;font-weight:bold;stroke:#000;stroke-width:0.25px;">1.5</text>
<line x1="540.30" y1="742.00" x2="540.30" y2="748.00" stroke="#000" stroke-width="1.5" stroke-linecap="butt"/>
<text class="sa" transform="translate(533.98,762.20) scale(0.8400,1.0000)" text-anchor="start" style="font-size:10.9px;font-weight:bold;stroke:#000;stroke-width:0.25px;">5.0</text>
<line x1="594.30" y1="742.00" x2="594.30" y2="748.00" stroke="#000" stroke-width="1.5" stroke-linecap="butt"/>
<text class="sa" transform="translate(585.24,762.20) scale(0.8400,1.0000)" text-anchor="start" style="font-size:10.9px;font-weight:bold;stroke:#000;stroke-width:0.25px;">12.5</text>
<line x1="648.20" y1="742.00" x2="648.20" y2="748.00" stroke="#000" stroke-width="1.5" stroke-linecap="butt"/>
<text class="sa" transform="translate(639.32,762.20) scale(0.8400,1.0000)" text-anchor="start" style="font-size:10.9px;font-weight:bold;stroke:#000;stroke-width:0.25px;">20.0</text>
<line x1="540.30" y1="640.16" x2="540.30" y2="631.40" stroke="#000" stroke-width="1.4" stroke-linecap="butt"/>
<line x1="531.70" y1="631.40" x2="548.90" y2="631.40" stroke="#000" stroke-width="1.4" stroke-linecap="butt"/>
<rect x="522.30" y="640.16" width="36.00" height="101.84" fill="#000" />
<text class="se" transform="translate(537.30,625.40) scale(0.8800,1.0000)" text-anchor="start" style="font-size:14.8px;stroke:#000;stroke-width:0.2px;">b</text>
<line x1="594.30" y1="659.00" x2="594.30" y2="651.01" stroke="#000" stroke-width="1.4" stroke-linecap="butt"/>
<line x1="585.70" y1="651.01" x2="602.90" y2="651.01" stroke="#000" stroke-width="1.4" stroke-linecap="butt"/>
<rect x="576.30" y="659.00" width="36.00" height="83.00" fill="#000" />
<text class="se" transform="translate(591.79,639.40) scale(0.8000,1.0000)" text-anchor="start" style="font-size:13.5px;stroke:#000;stroke-width:0.2px;">a</text>
<line x1="648.20" y1="645.20" x2="648.20" y2="634.25" stroke="#000" stroke-width="1.4" stroke-linecap="butt"/>
<line x1="639.60" y1="634.25" x2="656.80" y2="634.25" stroke="#000" stroke-width="1.4" stroke-linecap="butt"/>
<rect x="630.20" y="645.20" width="36.00" height="96.80" fill="#000" />
<text class="se" transform="translate(642.48,625.40) scale(0.9500,1.0000)" text-anchor="start" style="font-size:12.8px;stroke:#000;stroke-width:0.2px;">ab</text>
<text class="se" transform="translate(479.60,705.09) rotate(-90) scale(1.3668,0.8800)" text-anchor="start" style="font-size:9.5px;font-weight:bold;stroke:#000;stroke-width:0.25px;">MAFBX/β-actin</text>
<text class="se" transform="translate(537.75,777.60) scale(0.8826,1.0000)" text-anchor="start" style="font-size:11.3px;font-weight:bold;stroke:#000;stroke-width:0.25px;">Dietary Ile levels, g/kg diet</text>
</svg></body></html>
